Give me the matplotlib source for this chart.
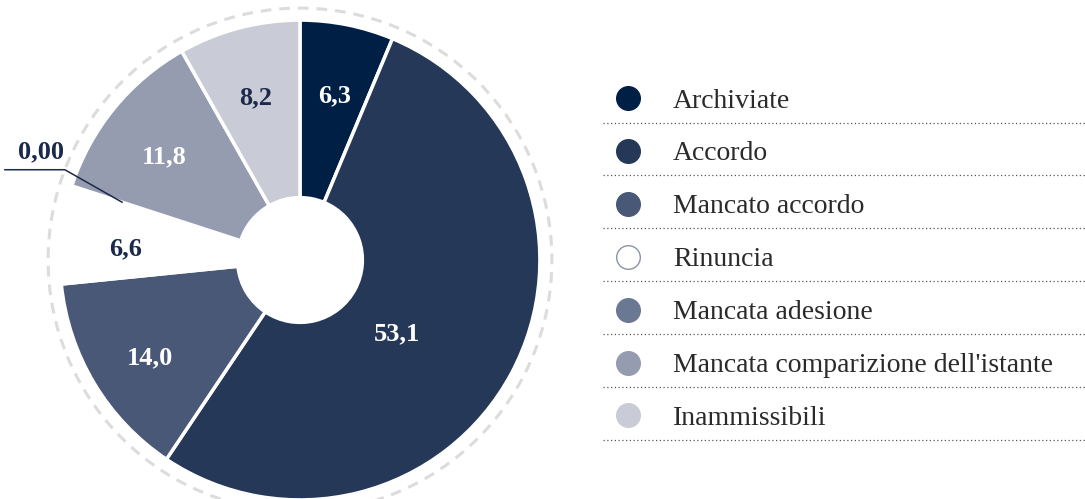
import numpy as np
import matplotlib
matplotlib.use("Agg")
import matplotlib.pyplot as plt
from matplotlib.lines import Line2D
from matplotlib.patches import Circle

plt.rcParams["font.family"] = ["Liberation Serif", "DejaVu Serif"]

# data
labels = ["Archiviate", "Accordo", "Mancato accordo", "Rinuncia",
          "Mancata adesione", "Mancata comparizione dell'istante", "Inammissibili"]
values = [6.3, 53.1, 14.0, 6.6, 0.0, 11.8, 8.2]
value_text = ["6,3", "53,1", "14,0", "6,6", "0,00", "11,8", "8,2"]
colors = ["#001f45", "#253858", "#4a5877", "#ffffff", "#6b7894", "#959cb0", "#c9ccd7"]
text_colors = ["white", "white", "white", "#1b2a4a", "#1b2a4a", "white", "#1b2a4a"]

W, H = 1085, 499
fig = plt.figure(figsize=(W / 100, H / 100), dpi=100)

# donut axes: radius 1 -> 238 px, centre at (300, 260) px
lim = 1.26
size = 2 * lim * 238
ax = fig.add_axes([(300 - size / 2) / W, (H - 260 - size / 2) / H, size / W, size / H])
ax.set_xlim(-lim, lim)
ax.set_ylim(-lim, lim)
ax.axis("off")

wedges, _ = ax.pie(values, colors=colors, startangle=90, counterclock=False,
                   radius=1.0,
                   wedgeprops=dict(width=0.74, edgecolor="white", linewidth=2.5))

ax.add_patch(Circle((0, 0), 1.05, fill=False, edgecolor="#dedbdb",
                    linewidth=2.2, linestyle=(0, (3.5, 2.6)), zorder=0))

# labels
cum = np.cumsum([0] + values)
for i, v in enumerate(values):
    mid = 90 - (cum[i] + v / 2) / 100 * 360
    a = np.deg2rad(mid)
    if v == 0:
        r0 = 0.78
        x0, y0 = r0 * np.cos(a), r0 * np.sin(a)
        ak = a - np.deg2rad(3)
        x1, y1 = 1.05 * np.cos(ak), 1.05 * np.sin(ak)
        ax.plot([x0, x1, -1.23], [y0, y1, y1], color="#1b2a4a", lw=1.1,
                clip_on=False, zorder=5)
        ax.text(-1.08, y1 + 0.025, value_text[i], ha="center", va="bottom",
                fontsize=19, fontweight="bold", color="#1b2a4a")
        continue
    if v > 50:
        a = a - np.deg2rad(6)
        r = 0.49
    else:
        r = 0.73
    ax.text(r * np.cos(a), r * np.sin(a) - 0.02, value_text[i], ha="center",
            va="center_baseline", fontsize=19, fontweight="bold",
            color=text_colors[i])

# legend
row0, step = 98, 52.9
for i, lab in enumerate(labels):
    yc = 1 - (row0 + step * i) / H
    edge = "#8a93a8" if colors[i] == "#ffffff" else colors[i]
    fig.add_artist(Line2D([628 / W], [yc], marker="o", markersize=17,
                          markerfacecolor=colors[i], markeredgecolor=edge,
                          markeredgewidth=1.0, linestyle="none"))
    fig.text(673 / W, yc, lab, ha="left", va="center_baseline", fontsize=20,
             color="#2a2a2a")
    ys = 1 - (row0 + step * i + 24.5) / H
    fig.add_artist(Line2D([603 / W, 1085 / W], [ys, ys], color="#555555",
                          linewidth=0.9, linestyle=(0, (1, 2))))

fig.savefig("out.png", dpi=100)
